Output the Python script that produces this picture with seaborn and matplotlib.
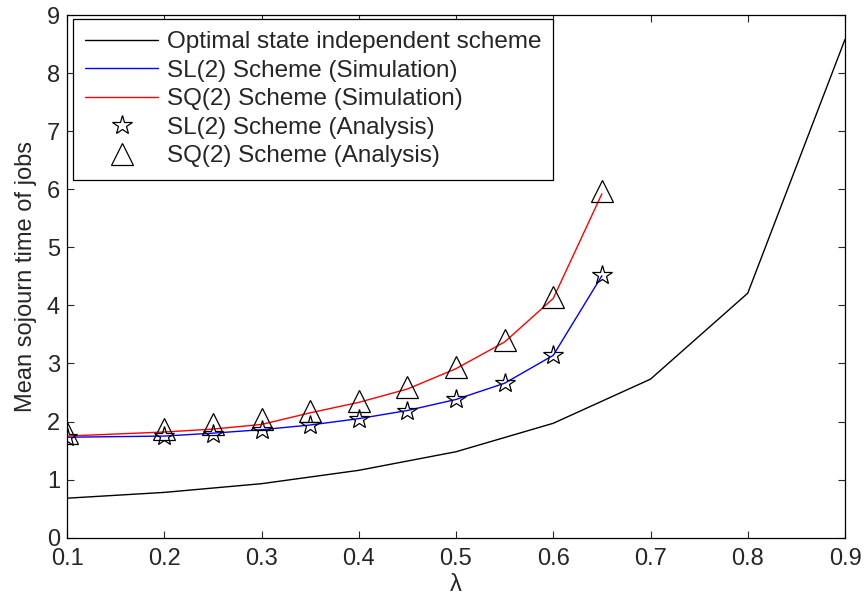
import matplotlib
matplotlib.use("Agg")
import matplotlib.pyplot as plt
import seaborn as sns
import pandas as pd

# data
lam_opt = [0.1, 0.2, 0.3, 0.4, 0.5, 0.6, 0.7, 0.8, 0.9]
opt_vals = [0.68, 0.78, 0.93, 1.16, 1.48, 1.97, 2.73, 4.21, 8.58]

lam_sim = [0.1, 0.2, 0.25, 0.3, 0.35, 0.4, 0.45, 0.5, 0.55, 0.6, 0.65]
sl_sim = [1.73, 1.75, 1.80, 1.86, 1.94, 2.05, 2.19, 2.38, 2.66, 3.14, 4.51]
sq_sim = [1.75, 1.82, 1.87, 1.95, 2.15, 2.33, 2.56, 2.91, 3.37, 4.12, 5.92]

sl_ana = [1.73, 1.75, 1.79, 1.86, 1.94, 2.04, 2.19, 2.38, 2.67, 3.15, 4.52]
sq_ana = [1.80, 1.87, 1.95, 2.04, 2.18, 2.36, 2.60, 2.94, 3.40, 4.15, 5.97]

xticks = [0.1, 0.2, 0.3, 0.4, 0.5, 0.6, 0.7, 0.8, 0.9]
yticks = [0, 1, 2, 3, 4, 5, 6, 7, 8, 9]

sns.set_style("ticks")
plt.rcParams['font.family'] = ['Liberation Sans', 'DejaVu Sans']
plt.rcParams['xtick.direction'] = 'in'
plt.rcParams['ytick.direction'] = 'in'

fig = plt.figure(figsize=(8.65, 5.99), dpi=100)
ax = fig.add_axes([67/865, 1-537.7/599, (845-67)/865, (537.7-15)/599])

df_opt = pd.DataFrame({"x": lam_opt, "y": opt_vals})
df_sl = pd.DataFrame({"x": lam_sim, "y": sl_sim})
df_sq = pd.DataFrame({"x": lam_sim, "y": sq_sim})
df_sla = pd.DataFrame({"x": lam_sim, "y": sl_ana})
df_sqa = pd.DataFrame({"x": lam_sim, "y": sq_ana})

lw = 1.0
sns.lineplot(data=df_opt, x="x", y="y", ax=ax, color="black", linewidth=lw,
             label="Optimal state independent scheme")
sns.lineplot(data=df_sl, x="x", y="y", ax=ax, color="blue", linewidth=lw,
             label="SL(2) Scheme (Simulation)")
sns.lineplot(data=df_sq, x="x", y="y", ax=ax, color="red", linewidth=lw,
             label="SQ(2) Scheme (Simulation)")
ax.plot(df_sla["x"], df_sla["y"], linestyle="none", marker="*", markersize=15,
        markerfacecolor="none", markeredgecolor="black", markeredgewidth=0.9,
        label="SL(2) Scheme (Analysis)")
ax.plot(df_sqa["x"], df_sqa["y"], linestyle="none", marker="^", markersize=15.5,
        markerfacecolor="none", markeredgecolor="black", markeredgewidth=0.9,
        label="SQ(2) Scheme (Analysis)")

ax.set_xlim(0.1, 0.9)
ax.set_ylim(0, 9)
ax.set_xticks(xticks)
ax.set_xticklabels([f"{t:.1f}" for t in xticks])
ax.set_yticks(yticks)
ax.set_yticklabels([str(t) for t in yticks])
ax.tick_params(labelsize=17, length=5, width=0.8, top=True, right=True)
ax.tick_params(axis="x", pad=7.5)
ax.tick_params(axis="y", pad=5)
for s in ax.spines.values():
    s.set_visible(True)
    s.set_linewidth(0.9)
    s.set_color("black")
ax.set_xlabel("λ", fontsize=17, labelpad=3)
ax.set_ylabel("Mean sojourn time of jobs", fontsize=17, labelpad=7)

leg = ax.legend(loc="upper left", bbox_to_anchor=(0.0077, 0.9925), fontsize=17.5,
                frameon=True, fancybox=False, framealpha=1, edgecolor="black",
                handlelength=3.0, borderpad=0.5, labelspacing=0.27,
                handletextpad=0.35, borderaxespad=0.0, markerscale=1.0)
leg.get_frame().set_linewidth(0.9)

fig.savefig("out.png", dpi=100)
